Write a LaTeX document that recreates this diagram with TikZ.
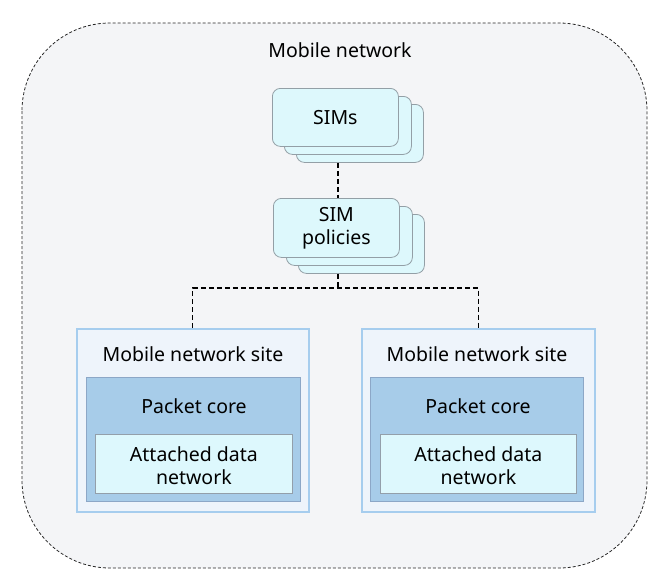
\documentclass[tikz,border=0pt]{standalone}
\usepackage{fontspec}
\setmainfont{Noto Sans}
\definecolor{bgc}{HTML}{F4F5F7}
\definecolor{simfill}{HTML}{DDF8FC}
\definecolor{simline}{HTML}{939FA6}
\definecolor{sitefill}{HTML}{EEF4FB}
\definecolor{siteline}{HTML}{A6CDEE}
\definecolor{corefill}{HTML}{A7CCE9}
\definecolor{coreline}{HTML}{8CA7C7}
\definecolor{attfill}{HTML}{DDF8FD}
\definecolor{attline}{HTML}{939FAA}
\tikzset{
  outerbox/.style={draw=black!85, line width=0.8pt, dash pattern=on 3pt off 2pt, fill=bgc, rounded corners=88pt},
  stackbox/.style={draw=simline, fill=simfill, rounded corners=8pt, line width=0.8pt, anchor=north west, inner sep=0pt},
  sitebox/.style={draw=siteline, fill=sitefill, line width=1.6pt, anchor=north west, inner sep=0pt},
  corebox/.style={draw=coreline, fill=corefill, line width=1pt, anchor=north west, inner sep=0pt},
  attbox/.style={draw=attline, fill=attfill, line width=0.8pt, anchor=north west, inner sep=0pt},
  lbl/.style={font=\fontsize{19.5}{23}\selectfont, text=black, inner sep=0pt, align=center},
  conn/.style={draw=black, line width=1.3pt, dash pattern=on 5pt off 3pt},
}
\begin{document}
\begin{tikzpicture}[x=1pt, y=-1pt]
\useasboundingbox (0,0) rectangle (666,584);
\draw[outerbox] (22,23) rectangle (647,568);
\node[lbl] (title) at (340,50) {Mobile network};

% SIMs stack
\node[stackbox, minimum width=127pt, minimum height=58pt] (sim3) at (296,104) {};
\node[stackbox, minimum width=127pt, minimum height=58pt] (sim2) at (284,96) {};
\node[stackbox, minimum width=126pt, minimum height=58pt] (sim1) at (272,88) {};
\node[lbl] (simtxt) at (sim1.center) {SIMs};

% SIM policies stack
\node[stackbox, minimum width=126pt, minimum height=59pt] (pol3) at (298,214) {};
\node[stackbox, minimum width=126pt, minimum height=59pt] (pol2) at (286,206) {};
\node[stackbox, minimum width=126pt, minimum height=59pt] (pol1) at (273,198) {};
\node[lbl] (poltxt) at (pol1.center) {SIM\\policies};

% Sites
\node[sitebox, minimum width=232pt, minimum height=183pt] (site1) at (76,328) {};
\node[corebox, minimum width=214pt, minimum height=124pt] (core1) at (86,377) {};
\node[attbox, minimum width=197pt, minimum height=59pt] (att1) at (95,434) {};
\node[lbl] (site1txt) at (193,354) {Mobile network site};
\node[lbl] (core1txt) at (194,406) {Packet core};
\node[lbl] (att1txt) at ([yshift=-2pt]att1.center) {Attached data\\network};

\node[sitebox, minimum width=233pt, minimum height=183pt] (site2) at (361,328) {};
\node[corebox, minimum width=213pt, minimum height=124pt] (core2) at (370,377) {};
\node[attbox, minimum width=196pt, minimum height=59pt] (att2) at (380,434) {};
\node[lbl] (site2txt) at (477,354) {Mobile network site};
\node[lbl] (core2txt) at (478,406) {Packet core};
\node[lbl] (att2txt) at ([yshift=-2pt]att2.center) {Attached data\\network};

% connectors
\coordinate (j) at (338,288);
\draw[conn] (sim3.south -| j) -- (pol1.north -| j);
\draw[conn] (pol3.south -| j) -- (j);
\draw[conn] (site1.north) |- (j) -| (site2.north);
\end{tikzpicture}
\end{document}
